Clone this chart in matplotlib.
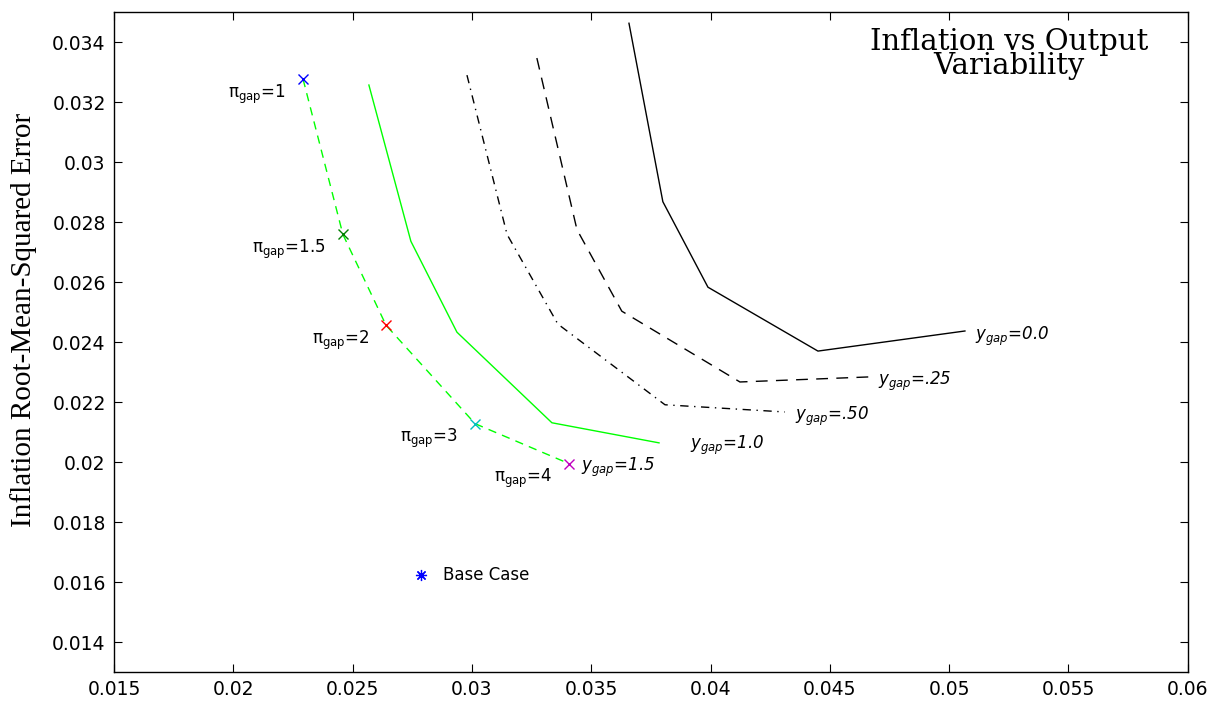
"""Inflation vs output variability frontier, redrawn with matplotlib."""

import matplotlib
matplotlib.use("Agg")
import matplotlib.pyplot as plt

# policy-frontier curves: one point per pi_gap weight (1, 1.5, 2, 3, 4)
pi_gap_labels = ["1", "1.5", "2", "3", "4"]

x_ygap_15 = [0.02292, 0.02459, 0.02640, 0.03013, 0.03406]
y_ygap_15 = [0.03277, 0.02759, 0.02456, 0.02128, 0.01995]

x_ygap_10 = [0.02568, 0.02744, 0.02937, 0.03335, 0.03784]
y_ygap_10 = [0.03257, 0.02736, 0.02433, 0.02131, 0.02064]

x_ygap_050 = [0.02979, 0.03147, 0.03360, 0.03809, 0.04311]
y_ygap_050 = [0.03290, 0.02759, 0.02460, 0.02191, 0.02167]

x_ygap_025 = [0.03272, 0.03440, 0.03628, 0.04123, 0.04668]
y_ygap_025 = [0.03347, 0.02775, 0.02503, 0.02267, 0.02284]

x_ygap_00 = [0.03658, 0.03800, 0.03989, 0.04450, 0.05066]
y_ygap_00 = [0.03463, 0.02868, 0.02583, 0.02370, 0.02437]

base_case = (0.02786, 0.01622)

x_ticks = [0.015, 0.02, 0.025, 0.03, 0.035, 0.04, 0.045, 0.05, 0.055, 0.06]
x_tick_labels = ["0.015", "0.02", "0.025", "0.03", "0.035", "0.04",
                 "0.045", "0.05", "0.055", "0.06"]
y_ticks = [0.014, 0.016, 0.018, 0.02, 0.022, 0.024, 0.026, 0.028, 0.03,
           0.032, 0.034]
y_tick_labels = ["0.014", "0.016", "0.018", "0.02", "0.022", "0.024",
                 "0.026", "0.028", "0.03", "0.032", "0.034"]

LIME = "#00ff00"
marker_colors = ["#0000ff", "#008000", "#ff0000", "#00bfbf", "#bf00bf"]

plt.rcParams["lines.scale_dashes"] = False
plt.rcParams["mathtext.fontset"] = "dejavusans"

fig = plt.figure(figsize=(12.16, 7.02), dpi=100, facecolor="white")
ax = fig.add_axes([0.0938, 0.0427, 0.883, 0.940])

lw = 1.0
ax.plot(x_ygap_15, y_ygap_15, color=LIME, lw=lw, dashes=(6, 4.5))
ax.plot(x_ygap_10, y_ygap_10, color=LIME, lw=lw)
ax.plot(x_ygap_050, y_ygap_050, color="black", lw=lw, dashes=(6, 4, 1, 4))
ax.plot(x_ygap_025, y_ygap_025, color="black", lw=lw, dashes=(8.5, 6))
ax.plot(x_ygap_00, y_ygap_00, color="black", lw=lw)

for xv, yv, c in zip(x_ygap_15, y_ygap_15, marker_colors):
    ax.plot(xv, yv, marker="x", color=c, ms=7, mew=1.0, ls="none")

ax.plot(*base_case, marker=(8, 2, 0), color="#0000ff", ms=8, mew=0.9, ls="none")

lab = dict(fontsize=12, family="DejaVu Sans", textcoords="offset pixels")

# pi_gap labels sit below-left of each marker
for xv, yv, t in zip(x_ygap_15, y_ygap_15, pi_gap_labels):
    ax.annotate("π" + r"$_{\mathrm{gap}}$=" + t, (xv, yv), xytext=(-17, -15),
                ha="right", va="center", **lab)

# y_gap labels at the right end of each curve
ends = [
    (x_ygap_15, y_ygap_15, "1.5", (12, -4)),
    (x_ygap_10, y_ygap_10, "1.0", (31, -3)),
    (x_ygap_050, y_ygap_050, ".50", (10, -4)),
    (x_ygap_025, y_ygap_025, ".25", (8, -5)),
    (x_ygap_00, y_ygap_00, "0.0", (10, -5)),
]
for xs, ys, t, off in ends:
    ax.annotate(r"$y_{gap}$=" + t, (xs[-1], ys[-1]), xytext=off,
                ha="left", va="center", style="italic", **lab)

ax.annotate("Base Case", base_case, xytext=(22, 0), ha="left", va="center",
            **lab)

ax.set_xlim(0.015, 0.06)
ax.set_ylim(0.013, 0.035)
ax.set_xticks(x_ticks)
ax.set_xticklabels(x_tick_labels)
ax.set_yticks(y_ticks)
ax.set_yticklabels(y_tick_labels)
ax.tick_params(direction="in", length=6, width=0.8, top=True, right=True,
               labelsize=13.5, pad=6)
for s in ax.spines.values():
    s.set_linewidth(1.0)

ax.set_ylabel("Inflation Root-Mean-Squared Error", family="Liberation Serif",
              fontsize=21)
ax.yaxis.set_label_coords(-0.072, 0.533)

fig.text(1009 / 1216, 1 - 54 / 702, "Inflation vs Output\nVariability",
         family="DejaVu Serif", fontsize=21, ha="center", va="center",
         linespacing=0.8)

fig.savefig("out.png", dpi=100, facecolor="white")
